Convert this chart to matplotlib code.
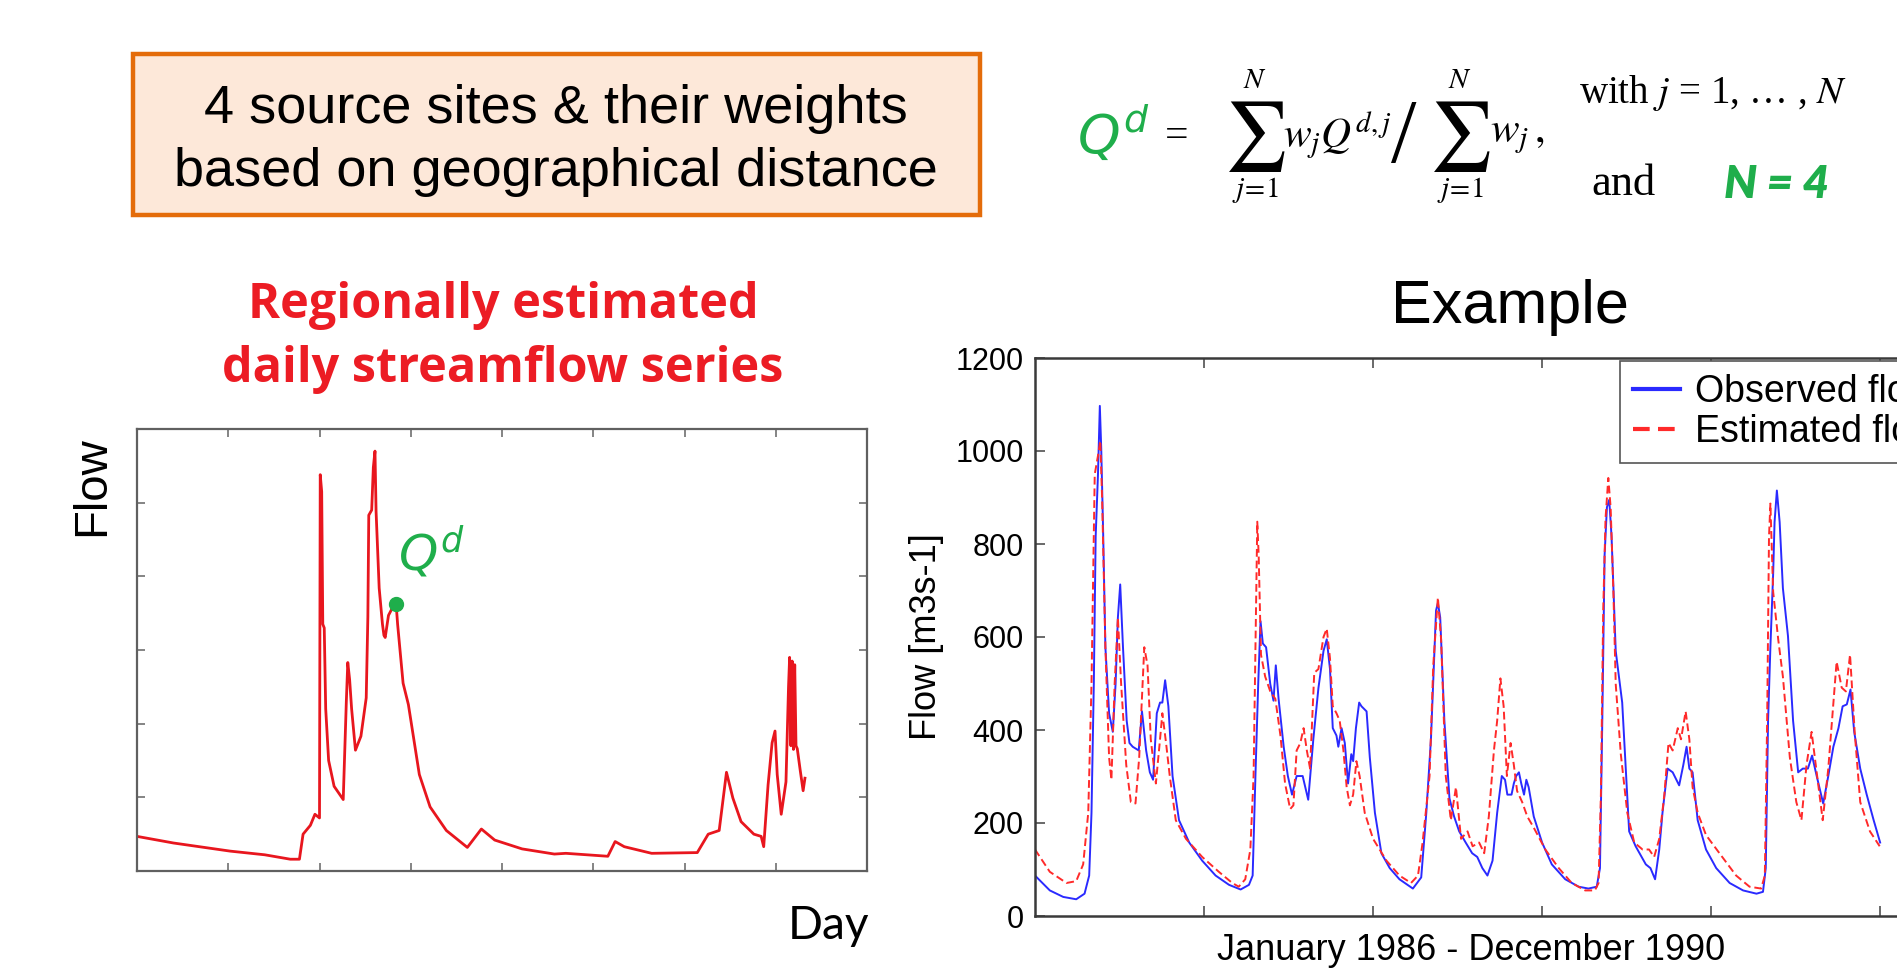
import matplotlib
matplotlib.use("Agg")
import matplotlib.pyplot as plt
from matplotlib.patches import Rectangle

W, H = 1897, 973

# ---- left panel: regionally estimated daily series (arbitrary units) ----
reg_day = [0, 20, 51, 70, 84, 89, 91, 95, 97.5, 100, 100.4, 101.2, 101.8, 102.6, 103.4, 105, 108, 113,
           114.7, 115.5, 116.5, 117.6, 119.7, 122.7, 125.6, 126.5, 127, 128.6, 129.5, 130.4, 131,
           132.7, 134.5, 135.3, 136, 137.8, 139.9, 142, 142.8, 145.8, 148.7, 154.7, 160.6, 169.5,
           181, 188.7, 196, 211, 228.7, 235, 258, 262, 267, 282, 307, 313, 319, 323, 326.5, 331,
           338, 342, 343.4, 345.8, 348, 349.6, 350.8, 353, 355.6, 357, 357.6, 358.3, 359, 359.7,
           360.4, 361.1, 361.8, 363.5, 365, 366]
reg_flow = [0.47, 0.38, 0.27, 0.22, 0.16, 0.16, 0.50, 0.62, 0.77, 0.72, 5.38, 5.15, 3.35, 3.3, 2.2, 1.5, 1.15, 0.97,
            2.3, 2.83, 2.6, 2.2, 1.64, 1.83, 2.35, 3.45, 4.83, 4.9, 5.48, 5.7, 4.88,
            3.84, 3.35, 3.2, 3.17, 3.47, 3.57, 3.62, 3.35, 2.55, 2.26, 1.31, 0.87, 0.55,
            0.32, 0.57, 0.42, 0.30, 0.23, 0.24, 0.20, 0.40, 0.33, 0.24, 0.25, 0.50, 0.55, 1.34, 0.99, 0.67,
            0.50, 0.47, 0.33, 1.17, 1.74, 1.9, 1.31, 0.77, 1.21, 2.5, 2.9, 1.7, 2.85, 1.65,
            2.8, 1.7, 1.66, 1.35, 1.09, 1.26]
qd_day, qd_flow = 142, 3.62

# ---- right panel: observed vs estimated flow, Jan 1986 - Dec 1990 ----
obs_day = [0, 32, 61, 89, 107, 117, 122, 127, 131, 136, 140, 143, 147, 152, 160, 168, 174, 179, 184, 190,
           198, 204, 211, 224, 231, 240, 248, 255, 263, 270, 275, 281, 288, 297, 311, 333, 361, 390, 419,
           444, 462, 470, 476, 482, 487, 492, 499, 508, 515, 520, 526, 537, 546, 555, 565, 578, 590, 601,
           612, 623, 630, 637, 643, 651, 655, 662, 669, 676, 683, 687, 693, 700, 705, 716, 723, 734, 748,
           766, 787, 816, 834, 845, 855, 866, 870, 875, 884, 895, 905, 916, 930, 944, 955, 966, 977, 988,
           998, 1008, 1015, 1020, 1029, 1034, 1039, 1045, 1050, 1056, 1061, 1066, 1077, 1095, 1116, 1145,
           1174, 1195, 1213, 1220, 1225, 1230, 1235, 1240, 1245, 1254, 1268, 1283, 1297, 1319, 1329, 1339,
           1348, 1355, 1366, 1377, 1391, 1400, 1407, 1413, 1420, 1431, 1449, 1471, 1500, 1529, 1558, 1572,
           1578, 1583, 1588, 1594, 1597, 1602, 1608, 1615, 1626, 1637, 1648, 1658, 1669, 1678, 1688, 1702,
           1713, 1724, 1735, 1744, 1753, 1761, 1769, 1782, 1796, 1811, 1825]
obs_flow = [87, 55, 41, 36, 48, 87, 222, 499, 816, 950, 1097, 1006, 832, 578, 436, 396, 499, 642, 713, 578,
            420, 372, 364, 356, 440, 356, 309, 293, 436, 459, 459, 507, 451, 301, 206, 158, 119, 87, 67,
            57, 67, 87, 301, 499, 634, 586, 578, 499, 463, 539, 467, 364, 301, 261, 301, 301, 250, 380,
            490, 570, 595, 531, 404, 388, 364, 404, 372, 285, 348, 333, 404, 459, 451, 440, 341, 222, 135,
            103, 79, 59, 83, 222, 380, 657, 673, 642, 420, 253, 214, 182, 158, 135, 127, 103, 87, 119,
            222, 301, 293, 261, 261, 285, 301, 309, 285, 261, 293, 277, 214, 158, 111, 79,
            63, 59, 63, 103, 420, 776, 879, 895, 816, 570, 459, 182, 150, 111, 103, 79,
            143, 222, 317, 309, 281, 325, 364, 317, 309, 206, 143, 103, 71, 55, 48, 52,
            103, 420, 578, 737, 847, 915, 847, 705, 602, 420, 309, 317, 317, 345, 301, 242,
            301, 364, 404, 451, 455, 487, 396, 317, 261, 206, 158]

est_day = [0, 32, 68, 89, 104, 115, 122, 129, 136, 141, 145, 152, 160, 165, 172, 179, 186, 197, 207, 217,
           225, 236, 243, 250, 261, 270, 275, 283, 291, 304, 326, 361, 397, 426, 440, 454, 465, 472, 476,
           480, 483, 488, 497, 508, 519, 530, 540, 551, 558, 565, 573, 580, 587, 594, 603, 612, 623, 630,
           637, 643, 651, 658, 666, 673, 680, 687, 694, 701, 712, 730, 759, 787, 812, 827, 837, 852, 860,
           870, 877, 887, 898, 909, 920, 934, 945, 959, 970, 980, 991, 998, 1005, 1012, 1019, 1027, 1034,
           1041, 1052, 1063, 1077, 1102, 1131, 1159, 1188, 1209, 1217, 1222, 1227, 1232, 1238, 1243, 1249,
           1254, 1265, 1279, 1294, 1312, 1326, 1337, 1348, 1359, 1368, 1377, 1388, 1395, 1405, 1413, 1420,
           1431, 1449, 1478, 1514, 1543, 1568, 1576, 1581, 1585, 1588, 1594, 1605, 1615, 1630, 1644, 1655,
           1666, 1677, 1688, 1701, 1713, 1724, 1731, 1742, 1751, 1760, 1770, 1782, 1803, 1824]
est_flow = [143, 95, 71, 75, 111, 222, 499, 950, 990, 1022, 895, 578, 341, 293, 499, 642, 499, 325, 245, 242,
            341, 578, 539, 380, 285, 380, 436, 372, 301, 206, 166, 127, 95, 71, 63, 79, 143, 301, 578,
            848, 776, 562, 515, 483, 467, 388, 285, 230, 238, 356, 372, 404, 356, 317, 523, 531, 600, 618,
            554, 451, 436, 420, 356, 277, 238, 261, 333, 301, 222, 166, 119, 87, 71, 87, 158, 301, 539,
            685, 594, 301, 206, 277, 166, 182, 150, 158, 135, 214, 356, 420, 511, 451, 301, 372, 325,
            269, 245, 214, 190, 143, 103, 71, 55, 55, 71, 261, 657, 855, 942, 879, 697,
            499, 348, 222, 158, 143, 143, 127, 166, 261, 372, 356, 404, 380, 440, 380, 277,
            222, 174, 135, 87, 63, 59, 87, 420, 816, 887, 697, 594, 515, 341, 245, 206,
            325, 396, 309, 206, 317, 459, 547, 491, 483, 562, 396, 245, 182, 150]

year_ticks = [365, 730, 1095, 1460, 1825]
flow_ticks = [0, 200, 400, 600, 800, 1000, 1200]

GREEN = "#1fae4b"
SANS = ["Liberation Sans", "DejaVu Sans"]
HUMAN = ["Open Sans", "DejaVu Sans"]
CALI = ["Lato", "DejaVu Sans"]
SERIF = ["Liberation Serif", "DejaVu Serif"]


def fx(px):
    return px / W


def fy(py):
    return 1 - py / H


fig = plt.figure(figsize=(W / 100, H / 100), dpi=100)


def ftext(x, y, s, **kw):
    kw.setdefault("ha", "center")
    kw.setdefault("va", "center")
    return fig.text(fx(x), fy(y), s, **kw)


# orange box with heading
fig.patches.append(Rectangle((fx(133), fy(215)), fx(980) - fx(133), fy(54) - fy(215),
                             transform=fig.transFigure, facecolor="#fde8d9",
                             edgecolor="#e46c0a", linewidth=3.2))
ftext(556, 109, "4 source sites & their weights", family=SANS, fontsize=39)
ftext(556, 172, "based on geographical distance", family=SANS, fontsize=39)

# formula
ftext(1113, 134, r"$Q^{d}$", color=GREEN, fontsize=39, math_fontfamily="dejavusans")
ftext(1177, 137, "=", family=SERIF, fontsize=30)
for sx in (1255, 1460):
    ftext(sx, 136, r"$\sum$", fontsize=50, math_fontfamily="stix")
    ftext(sx, 80, r"$N$", fontsize=21, math_fontfamily="stix")
    ftext(sx, 190, r"$j\!=\!1$", fontsize=21, math_fontfamily="stix")
ftext(1283, 135, r"$w_j Q^{d,j}$", ha="left", fontsize=30, math_fontfamily="stix")
ftext(1404, 140, "/", family=SERIF, fontsize=66)
ftext(1490, 135, r"$w_j\,,$", ha="left", fontsize=31, math_fontfamily="stix")
ftext(1579, 93, r"with $j$ = 1, … , $N$", ha="left", family=SERIF, fontsize=28,
      math_fontfamily="stix")
ftext(1591, 184, "and", ha="left", family=SERIF, fontsize=32)
ftext(1724, 185, "N = 4", ha="left", family=CALI, fontsize=33, fontweight="heavy",
      fontstyle="italic", color=GREEN)

# panel headings
ftext(503, 306, "Regionally estimated", family=HUMAN, fontsize=35, fontweight="bold", color="#ec1c24")
ftext(503, 370, "daily streamflow series", family=HUMAN, fontsize=35, fontweight="bold", color="#ec1c24")
ftext(1510, 307, "Example", family=SANS, fontsize=44)

# ---- left axes ----
ax = fig.add_axes([fx(137), fy(871), fx(867) - fx(137), fy(429) - fy(871)])
ax.plot(reg_day, reg_flow, color="#e8161e", linewidth=2.0)
ax.plot([qd_day], [qd_flow], "o", color=GREEN, markersize=10, zorder=5)
ax.text(qd_day + 1, qd_flow + 0.32, r"$Q^{d}$", color=GREEN, fontsize=36,
        math_fontfamily="dejavusans", ha="left", va="bottom")
ax.set_xlim(0, 400)
ax.set_ylim(0, 6)
ax.set_xticks(range(0, 401, 50))
ax.set_yticks(range(0, 7))
ax.tick_params(direction="in", length=6, width=1.2, color="#707070",
               top=True, right=True, labelbottom=False, labelleft=False)
for sp in ax.spines.values():
    sp.set_color("#606060")
    sp.set_linewidth(1.6)
ftext(92, 486, "Flow", rotation=90, family=SANS, fontsize=34)
ftext(828, 926, "Day", family=CALI, fontsize=33)

# ---- right axes ----
ax2 = fig.add_axes([fx(1035), fy(916), fx(1907) - fx(1035), fy(358) - fy(916)])
ax2.plot(obs_day, obs_flow, color="#2a2aff", linewidth=1.4, label="Observed flow")
ax2.plot(est_day, est_flow, color="#ff2a2a", linewidth=1.4, dashes=(4, 2), label="Estimated flow")
ax2.set_xlim(0, 1883)
ax2.set_ylim(0, 1200)
ax2.set_xticks(year_ticks)
ax2.set_yticks(flow_ticks)
ax2.tick_params(direction="in", length=7, width=1.2, color="#505050", top=True, right=True,
                labelbottom=False, labelsize=22, pad=8)
for lab in ax2.get_yticklabels():
    lab.set_family(SANS)
for sp in ax2.spines.values():
    sp.set_color("#3a3a3a")
    sp.set_linewidth(1.8)
ax2.set_ylabel("Flow [m3s-1]", family=SANS, fontsize=26, labelpad=8)
ax2.set_xlabel("January 1986 - December 1990", family=SANS, fontsize=26, labelpad=12)

leg = ax2.legend(loc="upper left", bbox_to_anchor=(fx(1620), fy(361)), bbox_transform=fig.transFigure,
                 prop={"family": SANS, "size": 27}, fancybox=False, edgecolor="#555555",
                 borderaxespad=0, borderpad=0.35, labelspacing=0.1, handlelength=1.25,
                 handletextpad=0.4, framealpha=1)
leg.get_frame().set_linewidth(1.2)
for ln in leg.get_lines():
    ln.set_linewidth(3.0)

fig.savefig("out.png", dpi=100)
